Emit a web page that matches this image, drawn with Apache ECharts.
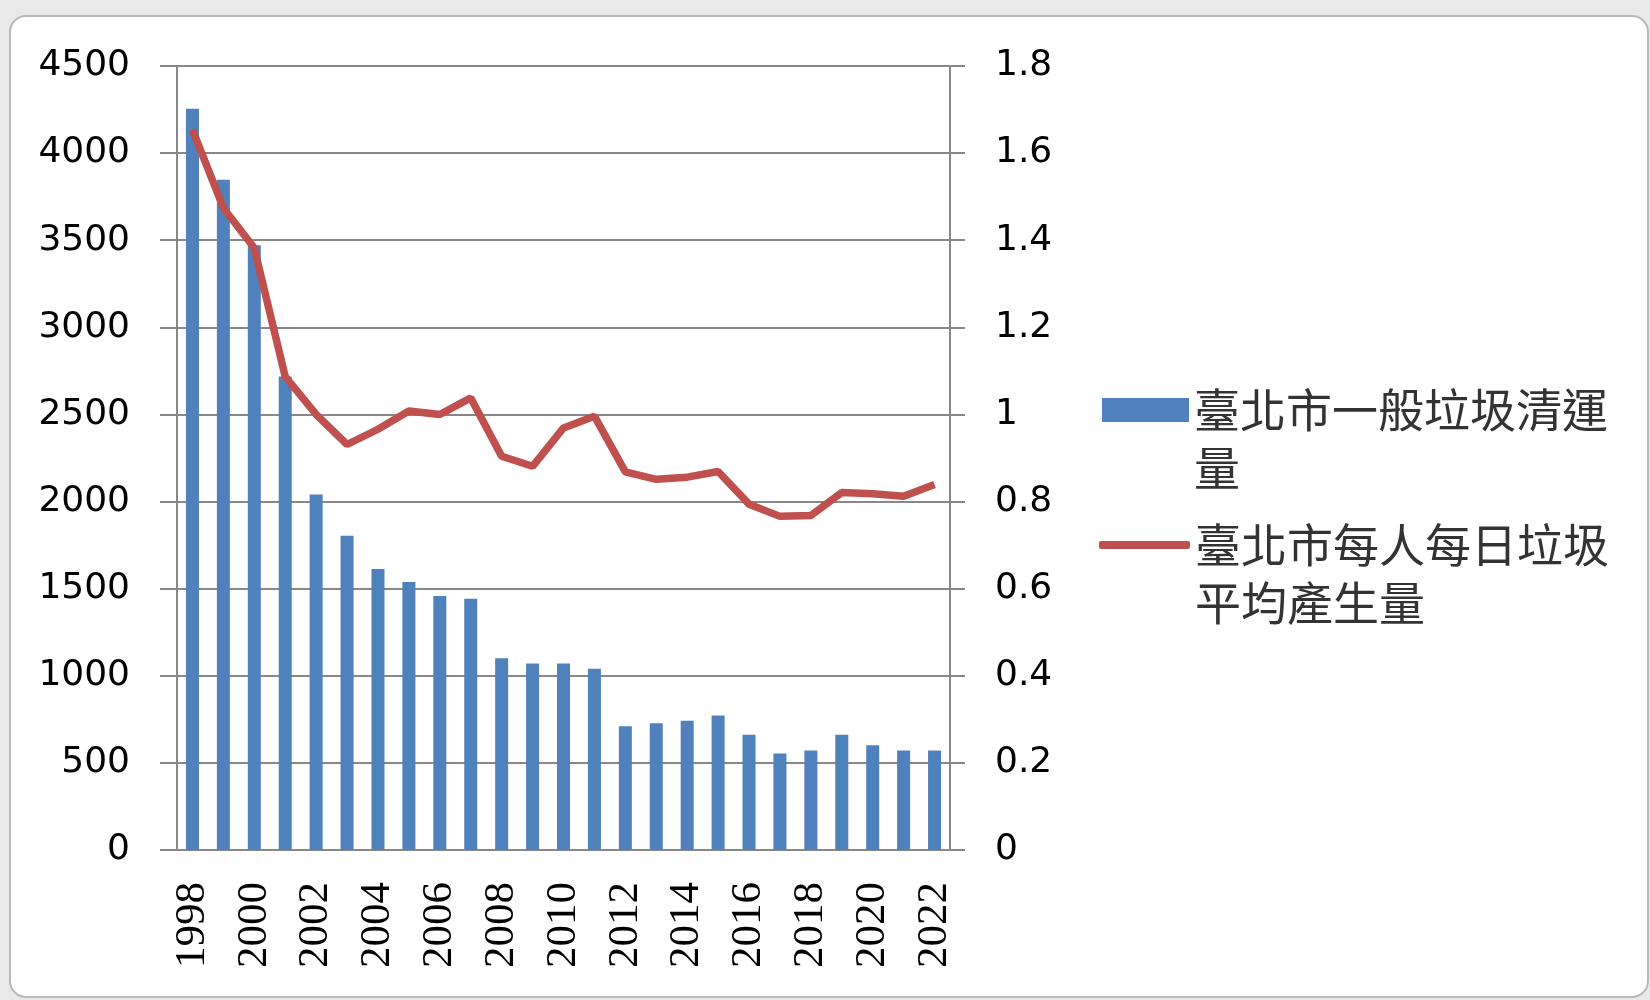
<!DOCTYPE html>
<html>
<head>
<meta charset="utf-8">
<title>臺北市垃圾清運量</title>
<script src="https://cdn.jsdelivr.net/npm/echarts@6/dist/echarts.min.js"></script>
<style>
  html, body { margin: 0; padding: 0; background: #e9e9e9; }
  #chart { width: 1650px; height: 1000px; }
</style>
</head>
<body>
<div id="chart"></div>
<script>
// data
var years = ['1998', '1999', '2000', '2001', '2002', '2003', '2004', '2005', '2006', '2007', '2008', '2009', '2010',
  '2011', '2012', '2013', '2014', '2015', '2016', '2017', '2018', '2019', '2020', '2021', '2022']
var tonnage = [4255, 3847, 3471, 2718, 2040, 1804, 1613, 1538, 1458, 1442, 1101, 1071, 1071,
  1040, 710, 728, 742, 772, 661, 554, 571, 661, 601, 571, 571]
var perCapita = [1.654, 1.474, 1.382, 1.087, 1.0, 0.931, 0.966, 1.008, 1.0, 1.038, 0.904, 0.881, 0.969,
  0.996, 0.868, 0.851, 0.856, 0.869, 0.794, 0.766, 0.768, 0.821, 0.818, 0.812, 0.839]
var barName = '臺北市一般垃圾清運量'
var lineName = '臺北市每人每日垃圾平均產生量'

var gray = '#888888'
var numFont = 'DejaVu Sans'

// legend text wraps after 9 characters; the blank first line keeps
// the icon level with the first line of text
function wrap(name) {
  return '\n' + name.slice(0, 9) + '\n' + name.slice(9)
}
var legendText = {
  color: '#333333',
  fontFamily: 'Noto Sans CJK TC',
  fontSize: 46,
  lineHeight: 58
}

var chart = echarts.init(document.getElementById('chart'))
chart.setOption({
  animation: false,
  backgroundColor: 'transparent',
  graphic: [{
    type: 'rect',
    z: -10,
    shape: { x: 10, y: 16, width: 1638, height: 981, r: 16 },
    style: { fill: '#ffffff', stroke: '#b9b9b9', lineWidth: 2 }
  }],
  grid: {
    left: 177,
    right: 700,
    top: 66,
    bottom: 150
  },
  legend: [{
    data: [barName],
    orient: 'vertical',
    left: 1102,
    top: 323,
    padding: 0,
    icon: 'rect',
    itemWidth: 87,
    itemHeight: 24,
    formatter: wrap,
    textStyle: legendText
  }, {
    data: [lineName],
    orient: 'vertical',
    left: 1099,
    top: 458,
    padding: 0,
    icon: 'roundRect',
    itemWidth: 91,
    itemHeight: 8,
    itemStyle: { borderWidth: 0 },
    formatter: wrap,
    textStyle: legendText
  }],
  xAxis: {
    type: 'category',
    data: years,
    axisLine: { lineStyle: { color: gray, width: 2 } },
    axisTick: { interval: 0, length: 17, lineStyle: { color: gray, width: 2 } },
    axisLabel: {
      interval: 1,
      rotate: 90,
      margin: 32,
      color: '#000',
      fontFamily: 'Liberation Sans Narrow',
      fontSize: 43
    }
  },
  yAxis: [{
    type: 'value',
    min: 0,
    max: 4500,
    interval: 500,
    axisLine: { show: true, lineStyle: { color: gray, width: 2 } },
    axisTick: { show: true, length: 17, lineStyle: { color: gray, width: 2 } },
    splitLine: { lineStyle: { color: gray, width: 2 } },
    axisLabel: {
      margin: 47,
      color: '#000',
      fontFamily: numFont,
      fontSize: 36,
      padding: [0, 0, 8, 0],
      formatter: function (v) {
        return String(v)
      }
    }
  }, {
    type: 'value',
    position: 'right',
    min: 0,
    max: 1.8,
    interval: 0.2,
    axisLine: { show: true, lineStyle: { color: gray, width: 2 } },
    axisTick: { show: true, length: 15, lineStyle: { color: gray, width: 2 } },
    splitLine: { show: false },
    axisLabel: {
      margin: 45,
      color: '#000',
      fontFamily: numFont,
      fontSize: 36,
      padding: [0, 0, 8, 0]
    }
  }],
  series: [{
    name: barName,
    type: 'bar',
    data: tonnage,
    barWidth: 13,
    itemStyle: { color: '#4f81bd' }
  }, {
    name: lineName,
    type: 'line',
    yAxisIndex: 1,
    data: perCapita,
    symbol: 'none',
    itemStyle: { color: '#c0504d' },
    lineStyle: { color: '#c0504d', width: 7.5 }
  }]
})
</script>
</body>
</html>
